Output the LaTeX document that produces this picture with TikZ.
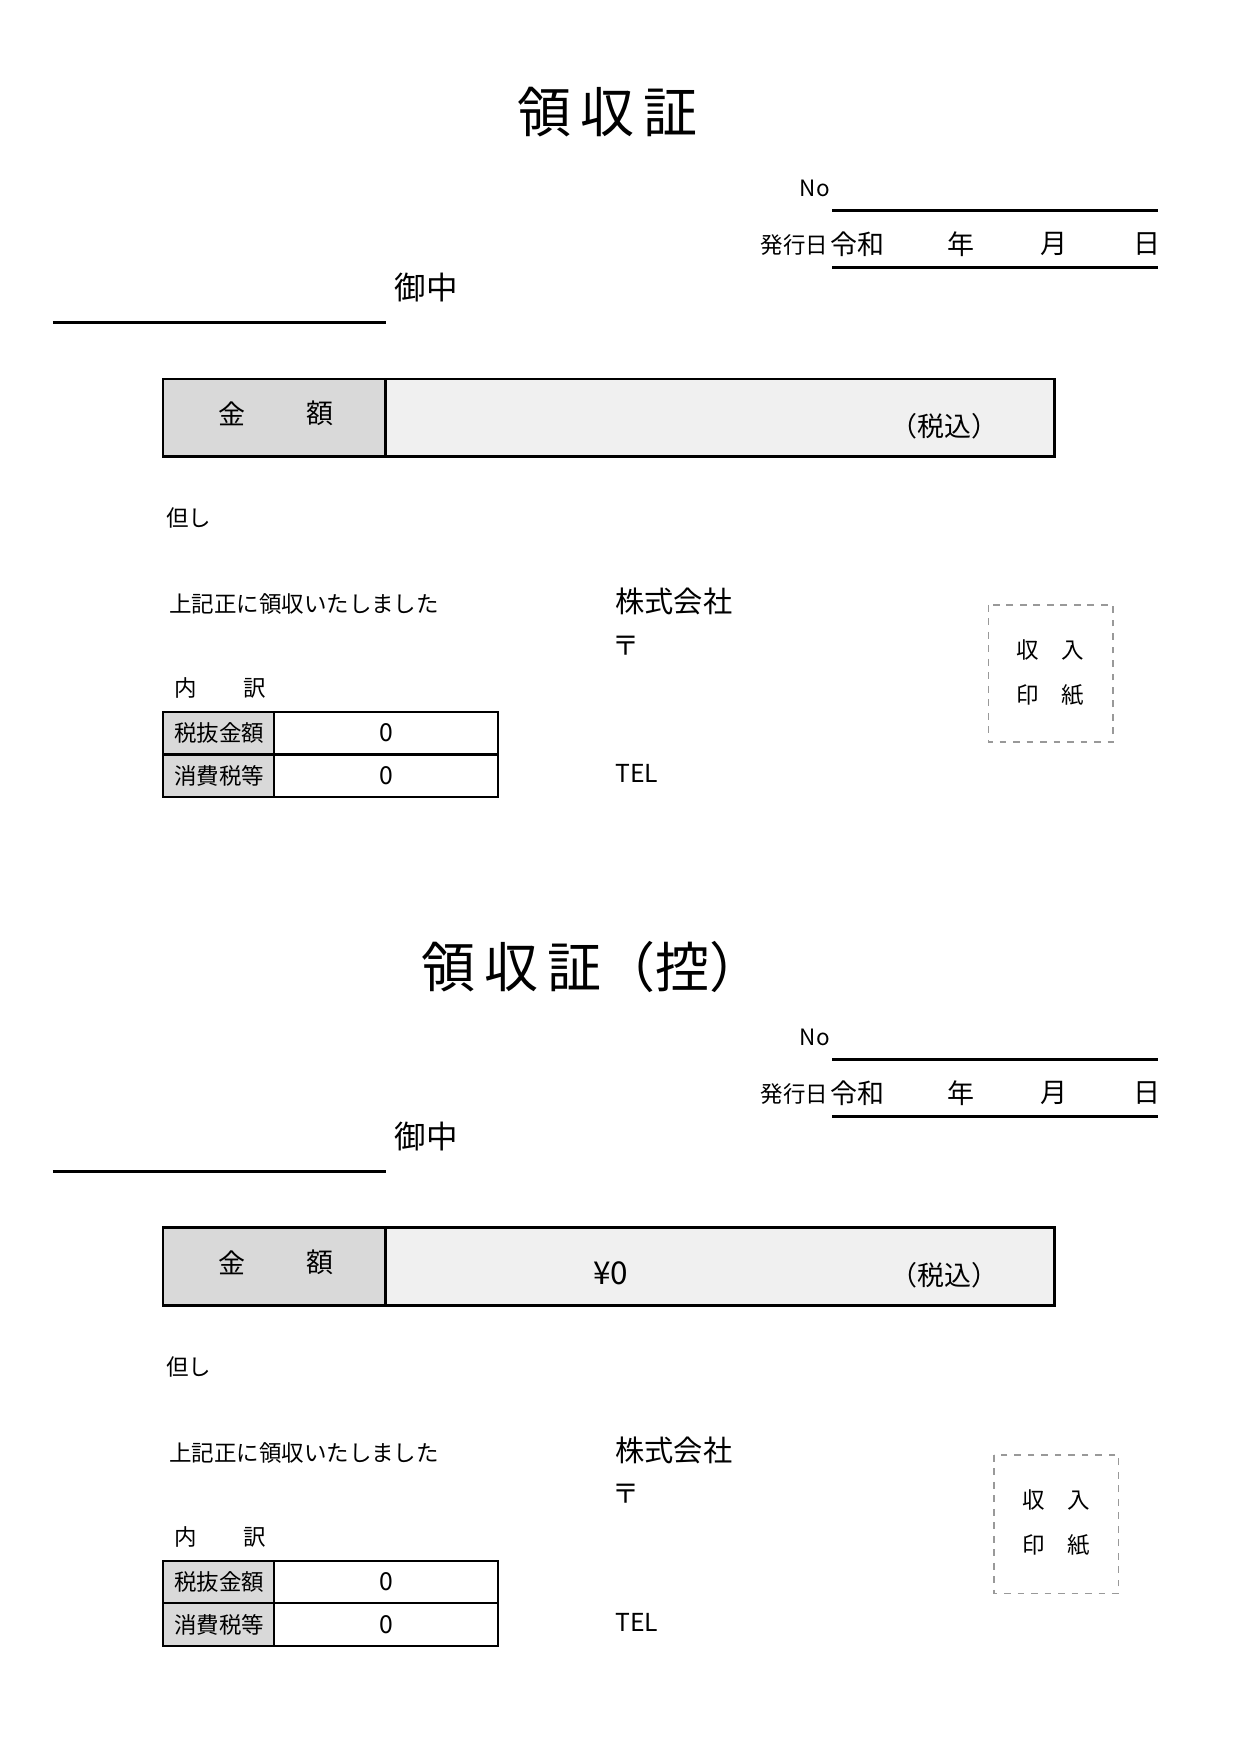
\documentclass[tikz,border=0pt]{standalone}
\usepackage{fontspec}
\setmainfont{Noto Sans CJK JP}
\setsansfont{Noto Sans CJK JP}
\begin{document}
\begin{tikzpicture}[x=0.5pt,y=-0.5pt,
  ln/.style={line width=1.2pt},
  txt/.style={inner sep=0pt,font=\fontsize{10}{12}\selectfont},
  mid/.style={inner sep=0pt,font=\fontsize{12}{14}\selectfont},
  cell/.style={draw,line width=1pt}]
\useasboundingbox (0,0) rectangle (1103,1560);
\newcommand\rcpt[4]{%
\begin{scope}[yshift=#1*-0.5pt]
\node[inner sep=0pt,font=\fontsize{24}{28}\selectfont] (title#4) at (#2,100+#3) {#3};
\end{scope}}
% block macro
\newcommand\blk[3]{%
\begin{scope}[shift={(0,#1)}]
\node[inner sep=0pt,font=\fontsize{24}{28}\selectfont] (title#3) at (#2) {\addfontfeatures{LetterSpace=25}\strut};
\node[txt,anchor=west] (no#3) at (711,168) {No};
\coordinate (noa#3) at (740,187); \coordinate (nob#3) at (1030,187);
\draw[ln] (noa#3) -- (nob#3);
\node[txt,anchor=east] (hk#3) at (737,218) {発行日};
\node[mid] (rw#3) at (763,217) {令和};
\node[mid] (y#3) at (855,217) {年};
\node[mid] (m#3) at (937,217) {月};
\node[mid] (d#3) at (1020,217) {日};
\coordinate (da#3) at (740,238); \coordinate (db#3) at (1030,238);
\draw[ln] (da#3) -- (db#3);
\node[inner sep=0pt,font=\fontsize{14}{16}\selectfont] (on#3) at (379,256) {御中};
\coordinate (oa#3) at (47,287); \coordinate (ob#3) at (343,287);
\draw[ln] (oa#3) -- (ob#3);
\path[fill=black!15] (145,337) rectangle (343,406);
\path[fill=black!6] (343,337) rectangle (938,406);
\draw[line width=1.2pt] (145,337) rectangle (938,406) (343,337) -- (343,406);
\node[mid] (k1#3) at (206,368) {金};
\node[mid] (k2#3) at (285,368) {額};
\node[mid] (zk#3) at (840,379) {（税込）};
\node[txt] (ts#3) at (168,461) {但し};
\node[txt,anchor=west] (jk#3) at (150,537) {上記正に領収いたしました};
\node[inner sep=0pt,anchor=west,font=\fontsize{13}{15}\selectfont] (kk#3) at (547,535) {株式会社};
\node[mid] (pm#3) at (557,574) {〒};
\node[inner sep=0pt,anchor=west,font=\fontsize{11}{13}\selectfont] (tel#3) at (547,688) {TEL};
\node[txt] (u1#3) at (165,612) {内};
\node[txt] (u2#3) at (227,612) {訳};
\path[fill=black!15] (145,633) rectangle (244,709);
\draw[line width=1pt] (145,633) rectangle (443,709) (145,671) -- (443,671) (244,633) -- (244,709);
\node[txt] (r1#3) at (195,652) {税抜金額};
\node[txt] (r2#3) at (195,690) {消費税等};
\node[inner sep=0pt,font=\fontsize{11}{13}\selectfont] (v1#3) at (344,652) {0};
\node[inner sep=0pt,font=\fontsize{11}{13}\selectfont] (v2#3) at (344,690) {0};
\end{scope}}
\blk{0}{540,100}{a}
\blk{755}{527,105}{b}
\node[inner sep=0pt,font=\fontsize{24}{28}\selectfont] (t1) at (540,100) {領\,収\,証};
\node[inner sep=0pt,font=\fontsize{24}{28}\selectfont] (t2) at (527,860) {領\,収\,証（控）};
\node[inner sep=0pt,font=\fontsize{14}{16}\selectfont] (yen) at (543,1132) {¥0};
% stamp boxes
\draw[dashed,black!40,line width=0.6pt] (879,538) rectangle (990,660);
\node[txt] (s1) at (934,578) {収\quad 入};
\node[txt] (s2) at (934,618) {印\quad 紙};
\draw[dashed,black!40,line width=0.6pt] (884,1294) rectangle (995,1417);
\node[txt] (s3) at (939,1334) {収\quad 入};
\node[txt] (s4) at (939,1374) {印\quad 紙};
\end{tikzpicture}
\end{document}
